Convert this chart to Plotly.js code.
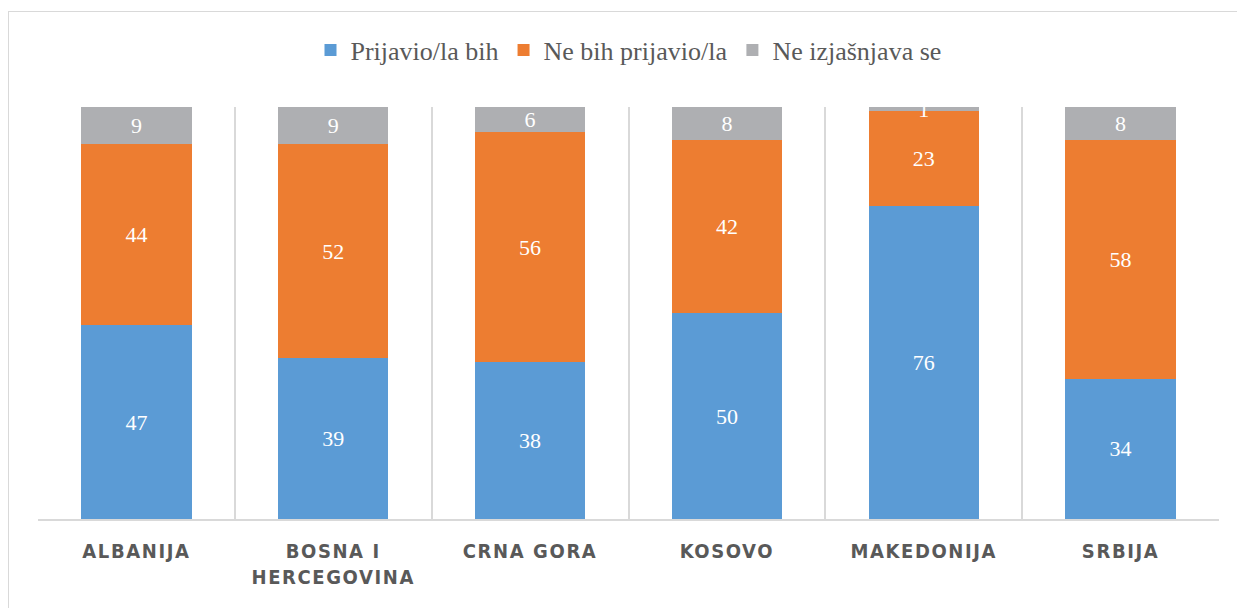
<!DOCTYPE html>
<html>
<head>
<meta charset="utf-8">
<script src="https://cdn.plot.ly/plotly-3.0.1.min.js"></script>
<style>
  html, body { margin: 0; padding: 0; background: #ffffff; overflow: hidden; }
  #frame { position: absolute; left: 8px; top: 11px; width: 1400px; height: 800px; border: 1.5px solid #d9d9d9; box-sizing: border-box; }
  #chart { position: absolute; left: 0; top: 0; width: 1237px; height: 608px; }
  .xtick text { letter-spacing: 1.6px; }
</style>
</head>
<body>
<div id="frame"></div>
<div id="chart"></div>
<script>
const categories = ["ALBANIJA", "BOSNA I<br>HERCEGOVINA", "CRNA GORA", "KOSOVO", "MAKEDONIJA", "SRBIJA"];
const seriesNames = ["Prijavio/la bih", "Ne bih prijavio/la", "Ne izjašnjava se"];
const prijavio = [47, 39, 38, 50, 76, 34];
const neBih = [44, 52, 56, 42, 23, 58];
const neIzjasnjava = [9, 9, 6, 8, 1, 8];
const colors = ["#5B9BD5", "#ED7D31", "#AEAFB2"];

const serif = "'Liberation Serif', 'DejaVu Serif', serif";
const values = [prijavio, neBih, neIzjasnjava];

const traces = values.map((v, i) => ({
  type: "bar",
  name: seriesNames[i],
  x: categories,
  y: v,
  text: v.map(String),
  textposition: "inside",
  insidetextanchor: "middle",
  textangle: 0,
  constraintext: "none",
  textfont: { family: serif, size: 22, color: "#ffffff" },
  marker: { color: colors[i], line: { width: 0 } },
  hoverinfo: "x+y+name",
  cliponaxis: false
}));

// invisible trace to drive the category-boundary gridlines
traces.push({
  type: "scatter", x: [0], y: [0], xaxis: "x2", mode: "markers",
  marker: { opacity: 0 }, showlegend: false, hoverinfo: "skip"
});

const layout = {
  width: 1237,
  height: 608,
  margin: { l: 38, r: 18, t: 107, b: 89 },
  paper_bgcolor: "rgba(0,0,0,0)",
  plot_bgcolor: "rgba(0,0,0,0)",
  barmode: "stack",
  bargap: 0.44,
  showlegend: true,
  legend: {
    orientation: "h",
    x: 0.5, xanchor: "center",
    y: 1.138, yanchor: "middle",
    font: { family: serif, size: 26, color: "#595959" },
    itemwidth: 30,
    traceorder: "normal",
    itemsizing: "constant"
  },
  xaxis: {
    type: "category",
    range: [-0.5, 5.5],
    showgrid: false,
    zeroline: false,
    showline: true,
    linecolor: "#d9d9d9",
    linewidth: 1.5,
    ticks: "outside",
    ticklen: 13,
    tickcolor: "rgba(0,0,0,0)",
    tickfont: { family: "'Liberation Sans Narrow', 'DejaVu Sans Condensed', 'Roboto', sans-serif", size: 20, color: "#595959", weight: "bold" },
    fixedrange: true
  },
  xaxis2: {
    overlaying: "x",
    range: [-0.5, 5.5],
    tick0: -0.5,
    dtick: 1,
    showgrid: true,
    gridcolor: "#d9d9d9",
    gridwidth: 1.5,
    zeroline: false,
    showticklabels: false,
    ticks: "",
    fixedrange: true
  },
  yaxis: {
    range: [0, 100],
    showgrid: false,
    zeroline: false,
    showticklabels: false,
    ticks: "",
    fixedrange: true
  }
};

Plotly.newPlot("chart", traces, layout, { displayModeBar: false });
</script>
</body>
</html>
